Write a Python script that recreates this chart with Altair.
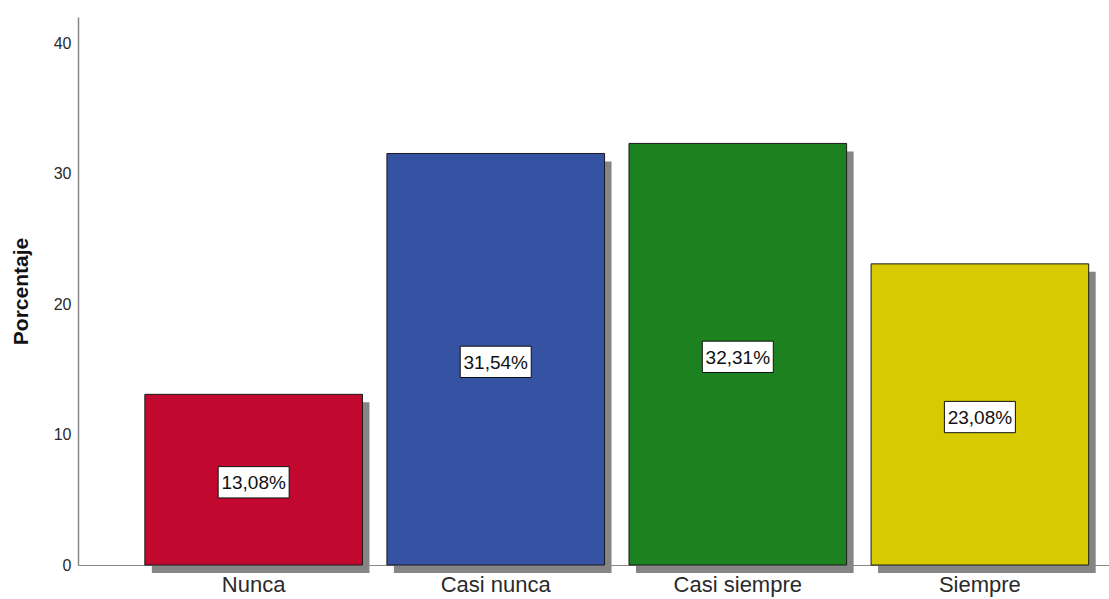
import altair as alt
import pandas as pd

# Frequency distribution of responses (percent)
categorias = ["Nunca", "Casi nunca", "Casi siempre", "Siempre"]
porcentajes = [13.08, 31.54, 32.31, 23.08]
colores = ["#c2082e", "#3652a2", "#1c8220", "#d8ca00"]
ticks_y = [0, 10, 20, 30, 40]

df = pd.DataFrame({"cat": categorias, "pct": porcentajes})

FONT = "Liberation Sans"

x_enc = alt.X(
    "cat:N",
    sort=categorias,
    title=None,
    scale=alt.Scale(paddingInner=0.101, paddingOuter=0.18, align=0.767),
    axis=alt.Axis(
        labelAngle=0,
        labelFontSize=22,
        labelColor="#2a2a2a",
        labelFont=FONT,
        labelPadding=9,
        ticks=False,
        domainColor="#888888",
        domainWidth=1.2,
        grid=False,
    ),
)

y_scale = alt.Scale(domain=[0, 42], nice=False)

y_enc = alt.Y(
    "pct:Q",
    title="Porcentaje",
    scale=y_scale,
    axis=alt.Axis(
        values=ticks_y,
        ticks=False,
        grid=False,
        labelFontSize=16,
        labelColor="#2a2a2a",
        labelFont=FONT,
        labelPadding=7,
        domainColor="#888888",
        domainWidth=1.5,
        titleFontSize=21,
        titleFont=FONT,
        titleFontWeight="bold",
        titleColor="#111111",
        titleAngle=270,
        titleX=-57,
        titleY=274,
        titleAlign="center",
        titleBaseline="middle",
    ),
)

base = alt.Chart(df)

# Drop shadow behind each bar
sombra = base.mark_bar(color="#858585", xOffset=7, yOffset=8).encode(
    x=x_enc,
    y=alt.Y("pct:Q", scale=y_scale),
)

barras = base.mark_bar(stroke="#1a1a1a", strokeWidth=1).encode(
    x=x_enc,
    y=y_enc,
    color=alt.Color(
        "cat:N",
        sort=categorias,
        scale=alt.Scale(domain=categorias, range=colores),
        legend=None,
    ),
)

# White label boxes centred near half the bar height
cajas = (
    base.transform_calculate(
        y0="datum.pct / 2 - 1.2 - 0.2",
        y1="datum.pct / 2 + 1.2 - 0.2",
    )
    .mark_bar(width=71, color="white", stroke="#111111", strokeWidth=1)
    .encode(
        x=alt.X("cat:N", sort=categorias),
        y=alt.Y("y0:Q", scale=y_scale),
        y2="y1:Q",
    )
)

etiquetas = (
    base.transform_calculate(
        mid="datum.pct / 2 - 0.2",
        txt="replace(format(datum.pct, '.2f'), '.', ',') + '%'",
    )
    .mark_text(fontSize=19, font=FONT, color="#111111", baseline="middle", dy=1)
    .encode(
        x=alt.X("cat:N", sort=categorias),
        y=alt.Y("mid:Q", scale=y_scale),
        text="txt:N",
    )
)

chart = (
    alt.layer(sombra, barras, cajas, etiquetas)
    .properties(
        width=1031,
        height=548,
        autosize=alt.AutoSizeParams(type="none"),
        padding={"left": 78, "top": 17, "right": 0, "bottom": 34},
        background="white",
    )
    .configure_view(stroke=None)
)

chart.save("out.html", embed_options={"renderer": "svg", "actions": False})
